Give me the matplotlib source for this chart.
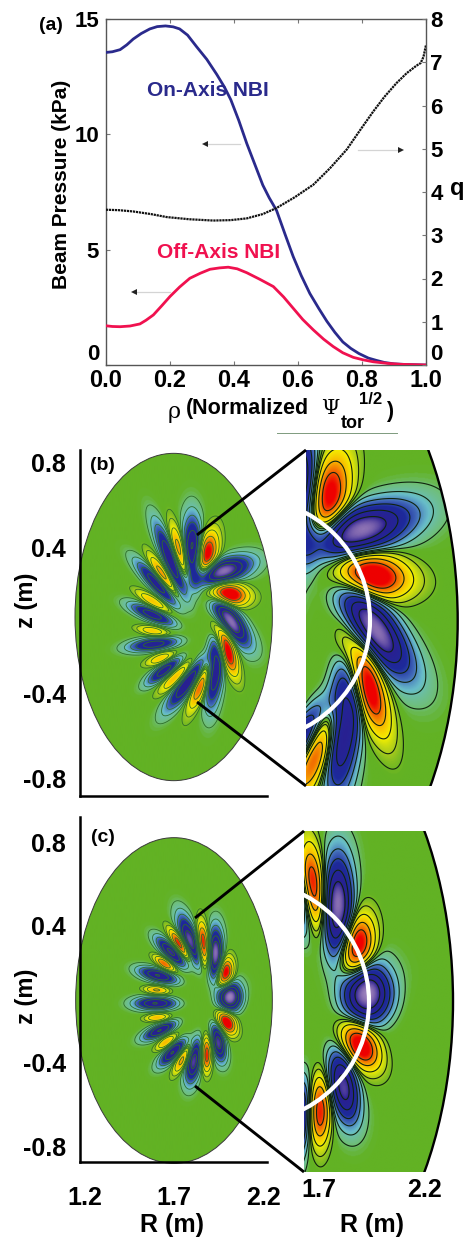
import numpy as np
import matplotlib
matplotlib.use("Agg")
import matplotlib.pyplot as plt
from matplotlib.colors import LinearSegmentedColormap
from matplotlib.patches import Ellipse

plt.rcParams['font.family'] = ['Liberation Sans', 'DejaVu Sans']
plt.rcParams['font.weight'] = 'bold'

W, H = 464, 1243

# ---------- panel (a) profiles ----------
rho_on = [0, .02, .044, .065, .085, .11, .137, .16, .186, .21, .23, .255, .283, .315, .346, .37, .39, .415, .44, .465,
          .49, .51, .533, .56, .585, .61, .637, .665, .69, .715, .74, .765, .79, .82, .845, .87, .9, .94, 1.0]
p_on = [13.55, 13.58, 13.67, 13.88, 14.13, 14.37, 14.57, 14.67, 14.7, 14.66, 14.57, 14.3, 13.8, 13.25, 12.6, 12.05, 11.5,
        10.6, 9.6, 8.7, 7.8, 7.25, 6.7, 5.65, 4.7, 3.88, 3.1, 2.45, 1.9, 1.42, 1.0, .72, .5, .3, .2, .11, .05, .02, 0]
rho_off = [0, .02, .044, .075, .106, .125, .148, .175, .2, .23, .262, .295, .325, .355, .382, .41, .44, .48, .523, .555,
           .585, .615, .648, .68, .71, .74, .773, .805, .835, .88, .92, 1.0]
p_off = [1.7, 1.67, 1.66, 1.69, 1.78, 1.94, 2.17, 2.58, 2.97, 3.38, 3.76, 3.98, 4.15, 4.21, 4.24, 4.17, 4.0, 3.72, 3.4, 2.95,
         2.46, 1.97, 1.52, 1.12, .8, .53, .33, .22, .14, .07, .03, 0]
rho_q = [0, .04, .085, .14, .19, .26, .335, .39, .44, .49, .533, .59, .648, .7, .752, .795, .835, .87, .908, .94, .97, .983, .992, 1.0]
q_val = [3.59, 3.58, 3.55, 3.49, 3.42, 3.37, 3.34, 3.35, 3.39, 3.49, 3.63, 3.88, 4.17, 4.55, 4.98, 5.44, 5.86, 6.2, 6.52, 6.75,
         6.92, 6.98, 7.12, 7.4]
left_ticks = [0, 5, 10, 15]
right_ticks = [0, 1, 2, 3, 4, 5, 6, 7, 8]
rho_ticks = [0, .2, .4, .6, .8, 1.0]

# ---------- mode lobes read from the crops: x, y, half length, half width,
# image angle of the long axis, amplitude ----------
lobes_b = [
 (400,340,60,18,88,-1.15),(437,350,45,16,105,1.05),(485,395,50,22,-18,-1.3),(505,462,35,17,8,1.1),
 (510,540,50,20,55,-1.3),(498,620,50,12,72,1.1),(465,680,65,16,96,-1.1),(428,720,55,11,112,.8),
 (385,725,55,15,127,-1.05),(350,710,40,10,137,.5),(315,690,35,12,143,-.9),(303,655,28,8,160,.42),
 (285,612,42,12,173,-.9),(280,573,28,7,10,.42),(280,525,40,12,23,-.9),(280,485,35,8,32,.45),
 (295,435,50,13,47,-.95),(310,410,45,9,58,.65),(335,365,65,14,68,-1.05),(360,345,55,10,76,.7),
]
lobes_c = [
 (392,395,45,15,70,-1.2),(430,405,40,9,85,.95),(467,435,45,14,90,-1.3),(495,492,28,12,100,1.05),
 (510,562,26,22,90,-1.35),(500,635,24,12,60,1.05),(475,695,32,13,80,-1.15),(440,730,32,8,90,.9),
 (402,750,38,14,100,-1.15),(370,745,30,8,120,.62),(340,725,30,12,135,-1.05),(320,695,22,7,145,.5),
 (302,660,30,11,155,-1.05),(293,622,22,6,175,.48),(290,580,35,12,180,-1.05),(292,540,22,6,5,.55),
 (297,497,33,12,15,-1.05),(315,462,22,7,35,.72),(335,428,33,12,45,-1.1),(362,405,32,8,55,.95),
]
ring_b = (400, 520)
ring_c = (395, 565)

VMIN, VMAX = -1.7, 1.15
color_stops = [(-1.7, '#efe4f2'), (-1.38, '#8f74b5'), (-1.12, '#2a1f90'), (-.6, '#1d2a9b'), (-.36, '#4067b8'),
               (-.18, '#68bdc9'), (-.06, '#6fbf7e'), (-.01, '#62b224'), (.03, '#62b224'), (.13, '#a9cb1c'),
               (.3, '#f4ef00'), (.55, '#f8b400'), (.8, '#f05a00'), (.98, '#ee0000'), (1.15, '#ee0000')]
cmap = LinearSegmentedColormap.from_list('mode', [((v - VMIN) / (VMAX - VMIN), c) for v, c in color_stops])
levels = [-1.1, -.8, -.5, -.3, -.14, -.05, .05, .13, .3, .55, .8]


def field(lobes, ring, X, Y):
    F = np.zeros_like(X, dtype=float)
    for x, y, L, w, ang, a in lobes:
        sl, sw = L * 1.05, w * (1.4 if a > 0 else 1.05)
        t = np.deg2rad(ang)
        c, s = np.cos(t), np.sin(t)
        u = (X - x) * c + (Y - y) * s
        v = -(X - x) * s + (Y - y) * c
        F += a * np.exp(-(.5 * ((u / sl) ** 2 + (v / sw) ** 2)) ** 1.2)
        # faint tail running outward along the lobe
        sgn = np.sign((x - ring[0]) * c + (y - ring[1]) * s) or 1
        xt, yt = x + sgn * 1.3 * L * c, y + sgn * 1.3 * L * s
        u = (X - xt) * c + (Y - yt) * s
        v = -(X - xt) * s + (Y - yt) * c
        F += .12 * a * np.exp(-.5 * (u / (1.0 * L)) ** 2 - .5 * (v / (1.4 * w)) ** 2)
    return F


fig = plt.figure(figsize=(W / 100, H / 100), dpi=100, facecolor='white')


def rect(l, t, r, b):
    return [l / W, 1 - b / H, (r - l) / W, (b - t) / H]


# ---------- panel (a) ----------
ax = fig.add_axes(rect(106, 19, 426, 365))
ax.plot(rho_on, p_on, color='#2a2a8c', lw=2.0, zorder=3)
ax.plot(rho_off, p_off, color='#f0114f', lw=2.0, zorder=3)
ax.set_xlim(0, 1)
ax.set_ylim(0, 15)
ax.set_xticks(rho_ticks, ['%.1f' % v for v in rho_ticks])
ax.set_yticks(left_ticks, [str(v) for v in left_ticks])
ax.tick_params(axis='x', direction='in', top=True, length=3, width=.8, color='#777', labelsize=17, pad=3)
ax.tick_params(axis='y', direction='in', length=3, width=.8, color='#777', labelsize=16, pad=5)
ax.get_yticklabels()[0].set_verticalalignment('bottom')
for s in ax.spines.values():
    s.set_color('#555')
    s.set_linewidth(1)
axq = ax.twinx()
axq.plot(rho_q, q_val, color='#111', lw=1.6, ls=(0, (1, .35)), zorder=3)
axq.set_ylim(0, 8)
axq.set_yticks(right_ticks, [str(v) for v in right_ticks])
axq.tick_params(axis='y', direction='in', length=3, width=.8, color='#777', labelsize=16, pad=3)
axq.get_yticklabels()[0].set_verticalalignment('bottom')
for s in axq.spines.values():
    s.set_visible(False)


# ---------- mode panels ----------
def draw_mode(a, lobes, ring, cal, ell_px, lc, lw, elw, ec):
    xg = np.linspace(40, 645, 620)
    yg = np.linspace(30, 1070, 1040)
    Xc, Yc = np.meshgrid(xg, yg)
    F = field(lobes, ring, Xc, Yc)
    im = a.imshow(F, extent=(cal['R'](xg[0]), cal['R'](xg[-1]), cal['z'](yg[-1]), cal['z'](yg[0])),
                  origin='upper', cmap=cmap, vmin=VMIN, vmax=VMAX, aspect='auto',
                  interpolation='bilinear', zorder=0)
    cx0, cx1, cy0, cy1 = ell_px
    e = Ellipse(((cal['R'](cx0) + cal['R'](cx1)) / 2, (cal['z'](cy0) + cal['z'](cy1)) / 2),
                cal['R'](cx1) - cal['R'](cx0), cal['z'](cy0) - cal['z'](cy1),
                fc='none', ec=ec, lw=elw, zorder=1)
    a.add_patch(e)
    cs = a.contour(cal['R'](xg), cal['z'](yg), F, levels=levels, colors=lc, linewidths=lw,
                   linestyles='solid', zorder=.5)
    im.set_clip_path(e)
    cs.set_clip_path(e)
    return e, im, cs


def calib(zero_y, scale_y, y_off):
    # crop pixel -> R, z through the axis calibration of the panel
    return {'R': lambda p: 1.2 + ((60 + np.asarray(p) / 3) - 85) / 178,
            'z': lambda p: (zero_y - (y_off + np.asarray(p) / 3)) / scale_y}


def main_panel(t, b, lobes, ring, cal, ell_px, zero_y, scale_y, z_tick_pos, with_x):
    a = fig.add_axes(rect(80, t, 267, b))
    e, im, cs = draw_mode(a, lobes, ring, cal, ell_px, '#2f6d2a', .6, .7, '#3a3a3a')
    e.set_clip_on(False)
    im.set_clip_box(fig.bbox)
    cs.set_clip_box(fig.bbox)
    a.set_xlim(1.2 + (80 - 85) / 178, 1.2 + (267 - 85) / 178)
    a.set_ylim((zero_y - b) / scale_y, (zero_y - t) / scale_y)
    for k in ('top', 'right'):
        a.spines[k].set_visible(False)
    for k in ('left', 'bottom'):
        a.spines[k].set_linewidth(1.8)
        a.spines[k].set_zorder(5)
    a.set_yticks(z_tick_pos, ['0.8', '0.4', '-0.4', '-0.8'])
    a.tick_params(axis='y', length=0, labelsize=18, pad=10)
    if with_x:
        a.set_xticks([1.2, 1.7, 2.2], ['1.2', '1.7', '2.2'])
        a.tick_params(axis='x', length=0, labelsize=18, pad=17)
    else:
        a.set_xticks([])
    a.patch.set_alpha(0)
    return a


def zoom_panel(l, t, r, b, lobes, ring, cal, ell_px, cx, cy, mxc, myc, s, zero_y, scale_y, arc_c, arc_r):
    a = fig.add_axes(rect(l, t, r, b))
    draw_mode(a, lobes, ring, cal, ell_px, '#10240f', .8, 1.7, 'black')
    Rof = lambda X: 1.2 + (mxc + (X - cx) / s - 85) / 178
    Zof = lambda Y: (zero_y - (myc + (Y - cy) / s)) / scale_y
    a.set_xlim(Rof(l), Rof(r))
    a.set_ylim(Zof(b), Zof(t))
    a.axis('off')
    arc = Ellipse((Rof(arc_c[0]), Zof(arc_c[1])), 2 * arc_r / s / 178, 2 * arc_r / s / scale_y,
                  fc='none', ec='white', lw=3, zorder=4)
    a.add_patch(arc)
    return a


cal_b = calib(620, 197.5, 440)
cal_c = calib(995, 190, 810)
main_panel(450, 796, lobes_b, ring_b, cal_b, (45, 637, 40, 1022), 620, 197.5, [.8, .365, -.37, -.8], False)
main_panel(817, 1162, lobes_c, ring_c, cal_c, (47, 637, 83, 1060), 995, 190, [.8, .368, -.353, -.8], True)
zoom_panel(306, 450, 464, 786, lobes_b, ring_b, cal_b, (45, 637, 40, 1022), 262, 620, 173.5, 616.5, 1.98,
           620, 197.5, (248.6, 620), 121.4)
zoom_panel(304, 831, 464, 1172, lobes_c, ring_c, cal_c, (47, 637, 83, 1060), 253.4, 1001.5, 174, 1000.5, 2.03,
           995, 190, (248.4, 1002), 120.6)

# ---------- annotation layer in picture pixels ----------
ov = fig.add_axes([0, 0, 1, 1], zorder=10)
ov.set_xlim(0, W)
ov.set_ylim(H, 0)
ov.axis('off')


def T(x, y, s, **k):
    k.setdefault('ha', 'center')
    k.setdefault('va', 'center')
    k.setdefault('fontweight', 'bold')
    return ov.text(x, y, s, **k)


T(51, 25, '(a)', fontsize=14)
T(62, 184, 'Beam Pressure (kPa)', fontsize=15, rotation=90)
T(457, 188, 'q', fontsize=17)
T(208, 90, 'On-Axis NBI', fontsize=15, color='#2a2a8c')
T(219, 252, 'Off-Axis NBI', fontsize=15, color='#f0114f')
T(168, 412, '\u03c1', fontsize=16, ha='left', family=['DejaVu Serif'], fontweight='normal')
T(186, 408, '(Normalized', fontsize=15.5, ha='left')
T(321, 408, '\u03a8', fontsize=15, ha='left', family=['DejaVu Serif'], fontweight='normal')
T(341, 423, 'tor', fontsize=13, ha='left')
T(359, 399, '1/2', fontsize=12, ha='left')
T(386, 411, ')', fontsize=15.5, ha='left')
ov.plot([277, 397], [433, 433], color='#7d9a7d', lw=.7)

for x0, x1, y in [(240, 205, 144), (358, 401, 150), (170, 134, 292)]:
    ov.plot([x0, x1], [y, y], color='#d4d4d4', lw=.9)
    ov.plot([x1], [y], marker='<' if x1 < x0 else '>', ms=4, color='#222', mew=0)

T(102, 465, '(b)', fontsize=14)
T(103, 837, '(c)', fontsize=14)
T(27, 600, 'z (m)', fontsize=17, rotation=90)
T(27, 996, 'z (m)', fontsize=17, rotation=90)
T(319, 1190, '1.7', fontsize=18)
T(425, 1190, '2.2', fontsize=18)
T(172, 1225, 'R (m)', fontsize=18)
T(372, 1225, 'R (m)', fontsize=18)

for (x0, y0, x1, y1) in [(197, 535, 306, 450), (197, 702, 306, 786), (195, 918, 304, 831), (195, 1086, 304, 1172)]:
    ov.plot([x0, x1], [y0, y1], color='black', lw=2.1, solid_capstyle='butt')

fig.savefig('out.png', dpi=100)
